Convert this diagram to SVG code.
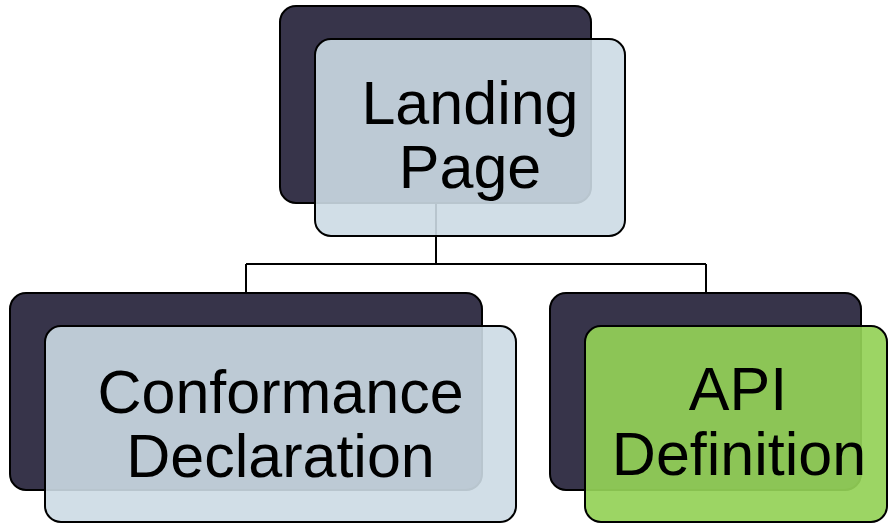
<svg xmlns="http://www.w3.org/2000/svg" width="888" height="524" viewBox="0 0 888 524">
<style>
.back{fill:#37344A;stroke:#000;stroke-width:2}
.front{fill:#CCDAE4;fill-opacity:0.9;stroke:#000;stroke-width:2}
.green{fill:#94D157;fill-opacity:0.92;stroke:#000;stroke-width:2}
.conn{fill:none;stroke:#000;stroke-width:2}
.lbl{font-family:"Liberation Sans",Arial,sans-serif;font-size:61px;fill:#000;text-anchor:middle}
</style>
<rect width="888" height="524" fill="#fff"/>
<g id="connectors">
<path class="conn" d="M436,203 V264 M246,264 H706 M246,264 V293 M706,264 V293"/>
</g>
<g id="landing">
<rect class="back" x="280" y="6" width="311" height="197" rx="16"/>
<rect class="front" x="315" y="39" width="310" height="197" rx="16"/>
<text class="lbl" x="470" y="124">Landing</text>
<text class="lbl" x="470" y="188">Page</text>
</g>
<g id="conformance">
<rect class="back" x="10" y="293" width="472" height="197" rx="16"/>
<rect class="front" x="45" y="326" width="471" height="196" rx="16"/>
<text class="lbl" x="280.5" y="413">Conformance</text>
<text class="lbl" x="280.5" y="477">Declaration</text>
</g>
<g id="api">
<rect class="back" x="550" y="293" width="311" height="197" rx="16"/>
<rect class="green" x="585" y="326" width="302" height="196" rx="16"/>
<text class="lbl" x="738" y="410">API</text>
<text class="lbl" x="739" y="475">Definition</text>
</g>
</svg>
